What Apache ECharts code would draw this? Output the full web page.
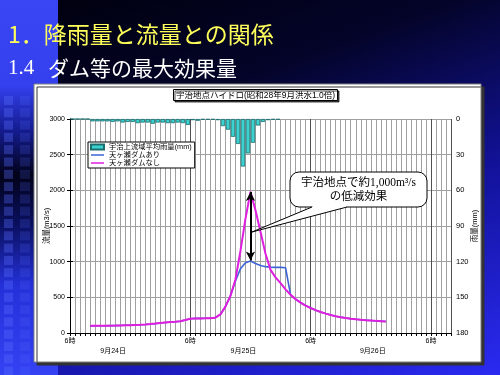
<!DOCTYPE html>
<html><head><meta charset="utf-8">
<script src="https://cdn.jsdelivr.net/npm/echarts@6/dist/echarts.min.js"></script>
<style>
html,body{margin:0;padding:0;}
body{width:500px;height:375px;overflow:hidden;
background:
 linear-gradient(to bottom,#3a46f4 0px,#3440ee 85px,#141c90 130px,#02021a 175px,#0a1060 225px,#2430d8 285px,#3442f4 375px) 0 0/58px 375px no-repeat,
 linear-gradient(160deg,#00000c 0%,#04042a 30%,#12129a 62%,#2a2af2 100%);}
#c{width:500px;height:375px;}
</style></head><body><div id="c"></div><script>
// ---- data ----
const chartTitle = '宇治地点ハイドロ(昭和28年9月洪水1.0倍)';
const seriesNames = ['宇治上流域平均雨量(mm)', '天ヶ瀬ダムあり', '天ヶ瀬ダムなし'];
const hourTickLabel = '6時';            // every 24 h from 9/24 6時
const dateLabels = ['9月24日', '9月25日', '9月26日'];
const datePositions = [8.6, 34.6, 60.4]; // hours after 9/24 6時
const leftTicks = [0, 500, 1000, 1500, 2000, 2500, 3000];
const rightTicks = [0, 30, 60, 90, 120, 150, 180];
// hourly rainfall (mm), one value per hour starting 9/24 6時
const rainfall = [0, 0, 0, 0, 2, 2, 2, 2, 2.5, 2, 3, 2.5, 2.5, 3.5, 3, 3, 4, 3, 3, 3.5, 3.5, 3, 3.5, 5,
  1, 1.5, 0.5, 0.5, 0.5, 1, 6, 9, 15, 21, 40, 29, 20, 5.5, 2.5, 1, 0.5, 0.5];
// discharge (m3/s), hourly, starting at hour 4 (9/24 10時)
const flowStartHour = 4;
const flowNoDam = [100, 100, 101, 102, 103, 104, 106, 108, 110, 113, 116, 120, 125, 132, 140, 147, 153, 158, 165, 182,
  200, 205, 205, 206, 208, 215, 260, 370, 520, 750, 1150, 1600, 1980, 1720, 1420, 1110, 885, 780, 700, 612,
  535, 475, 425, 385, 350, 320, 295, 272, 252, 236, 222, 211, 201, 193, 186, 180, 175, 170, 166, 162];
const flowWithDam = [100, 100, 101, 102, 103, 104, 106, 108, 110, 113, 116, 120, 125, 132, 140, 147, 153, 158, 165, 182,
  200, 205, 205, 206, 208, 215, 260, 370, 520, 730, 900, 985, 1010, 975, 945, 930, 922, 920, 920, 915,
  535, 475, 425, 385, 350, 320, 295, 272, 252, 236, 222, 211, 201, 193, 186, 180, 175, 170, 166, 162];
const peakHour = 36;
const peakNoDam = 1975, peakWithDam = 1015;

const FONT = '"Liberation Sans","Noto Sans CJK JP",sans-serif';
const chart = echarts.init(document.getElementById('c'), null, {renderer: 'canvas'});

const squares = [];
for (let k = 0; k < 23; k++) {
  squares.push({type: 'rect', silent: true, z: -20, shape: {x: 4, y: 96 + k * 12.3, width: 9, height: 9},
    style: {fill: 'rgba(90,110,255,0.35)'}});
  squares.push({type: 'rect', silent: true, z: -20, shape: {x: 20, y: 96 + k * 12.3, width: 10, height: 9},
    style: {fill: 'rgba(90,110,255,0.18)'}});
}
const lineIcon = 'path://M0,0h26v3h-26z';

const option = {
  animation: false,
  backgroundColor: 'transparent',
  title: {
    text: chartTitle, left: 173, top: 89, padding: [2, 3, 1, 3],
    textStyle: {fontSize: 8.5, fontWeight: 'normal', color: '#000', fontFamily: FONT},
    backgroundColor: '#fff', borderColor: '#000', borderWidth: 1,
    shadowColor: 'rgba(0,0,0,0.7)', shadowOffsetX: 1.5, shadowOffsetY: 1.5, shadowBlur: 0
  },
  legend: {
    left: 88, top: 142, orient: 'vertical', backgroundColor: '#fff', borderColor: '#000', borderWidth: 1,
    padding: [1, 3, 1, 2], itemGap: 0, itemWidth: 13, itemHeight: 5, symbolKeepAspect: true,
    textStyle: {fontSize: 7.3, lineHeight: 8, color: '#000', fontFamily: FONT},
    data: [{name: seriesNames[0], icon: 'rect'}, {name: seriesNames[1], icon: lineIcon}, {name: seriesNames[2], icon: lineIcon}]
  },
  grid: {left: 70, right: 49, top: 119, bottom: 42},
  xAxis: [
    {type: 'value', min: 0, max: 76, interval: 1, position: 'bottom',
      axisLine: {lineStyle: {color: '#000', width: 1}},
      axisTick: {length: 3, lineStyle: {color: '#000'}},
      splitLine: {show: true, lineStyle: {color: '#a0a0a0', width: 1}},
      axisLabel: {fontSize: 7, margin: 5, color: '#000', fontFamily: FONT,
        formatter: v => (v % 24 === 0 ? hourTickLabel : '')}},
    {type: 'value', min: 0, max: 76, interval: 24, position: 'bottom',
      axisLine: {show: false}, axisTick: {show: false}, axisLabel: {show: false},
      splitLine: {show: true, lineStyle: {color: '#505050', width: 1}}},
    {type: 'value', min: 0, max: 76, position: 'bottom',
      axisLine: {show: false}, axisTick: {show: false}, splitLine: {show: false},
      axisLabel: {customValues: datePositions, margin: 15, fontSize: 7, color: '#000', fontFamily: FONT,
        formatter: v => {
          let best = 0;
          datePositions.forEach((p, i) => { if (Math.abs(p - v) < Math.abs(datePositions[best] - v)) best = i; });
          return dateLabels[best];
        }}}
  ],
  yAxis: [
    {type: 'value', min: leftTicks[0], max: leftTicks[leftTicks.length - 1], interval: leftTicks[1] - leftTicks[0],
      position: 'left', name: '流量(m3/s)', nameLocation: 'middle', nameGap: 19, nameRotate: 90, nameMoveOverlap: false,
      nameTextStyle: {fontSize: 7.5, color: '#000', fontFamily: FONT},
      axisLine: {show: true, lineStyle: {color: '#000'}},
      axisTick: {show: true, length: 3, lineStyle: {color: '#000'}},
      axisLabel: {fontSize: 7, margin: 5, color: '#000', fontFamily: FONT, formatter: v => String(v)},
      splitLine: {show: true, lineStyle: {color: '#a0a0a0'}}},
    {type: 'value', min: rightTicks[0], max: rightTicks[rightTicks.length - 1], interval: rightTicks[1] - rightTicks[0],
      inverse: true, position: 'right', name: '雨量(mm)', nameLocation: 'middle', nameGap: 20, nameRotate: 90, nameMoveOverlap: false,
      nameTextStyle: {fontSize: 7.5, color: '#000', fontFamily: FONT},
      axisLine: {show: true, lineStyle: {color: '#000'}},
      axisTick: {show: true, length: 3, lineStyle: {color: '#000'}},
      axisLabel: {fontSize: 7.5, margin: 5, color: '#000', fontFamily: FONT, formatter: v => String(v)},
      splitLine: {show: false}}
  ],
  series: [
    {name: seriesNames[0], type: 'bar', xAxisIndex: 0, yAxisIndex: 1, barWidth: 4.4,
      itemStyle: {color: '#3cd2d2', borderColor: '#1b6e6e', borderWidth: 0.8},
      data: rainfall.map((v, i) => [i + 0.5, v])},
    {name: seriesNames[1], type: 'line', xAxisIndex: 0, yAxisIndex: 0, symbol: 'none',
      lineStyle: {color: '#3d64d6', width: 1.6}, itemStyle: {color: '#3d64d6'},
      data: flowWithDam.map((v, i) => [flowStartHour + i, v])},
    {name: seriesNames[2], type: 'line', xAxisIndex: 0, yAxisIndex: 0, symbol: 'none',
      lineStyle: {color: '#e01ee0', width: 2}, itemStyle: {color: '#e01ee0'},
      data: flowNoDam.map((v, i) => [flowStartHour + i, v]),
      markLine: {silent: true, symbol: ['arrow', 'arrow'], symbolSize: [7, 9],
        lineStyle: {color: '#000', width: 2, type: 'solid'}, label: {show: false},
        data: [[{coord: [peakHour, peakNoDam]}, {coord: [peakHour, peakWithDam]}]]}}
  ],
  graphic: [
    ...squares,
    {type: 'rect', silent: true, z: -10, shape: {x: 34, y: 84, width: 447, height: 278},
      style: {fill: '#fff', stroke: '#808080', lineWidth: 1, shadowColor: '#333', shadowOffsetX: 3, shadowOffsetY: 3, shadowBlur: 0}},
    {type: 'text', silent: true, x: 8, y: 34,
      style: {text: '1．降雨量と流量との関係', fill: '#ffff5a', font: '23px "Noto Sans CJK JP"', verticalAlign: 'middle', textVerticalAlign: 'middle'}},
    {type: 'text', silent: true, x: 8, y: 68,
      style: {text: '1.4', fill: '#fff', font: '21px "Liberation Serif"', verticalAlign: 'middle', textVerticalAlign: 'middle'}},
    {type: 'text', silent: true, x: 48, y: 68,
      style: {text: 'ダム等の最大効果量', fill: '#fff', font: '21px "Noto Sans CJK JP"', verticalAlign: 'middle', textVerticalAlign: 'middle'}},
    {type: 'rect', silent: true, z: 50, shape: {x: 290, y: 172, width: 137, height: 35, r: 9},
      style: {fill: '#fff', stroke: '#000', lineWidth: 1}},
    {type: 'polygon', silent: true, z: 51, shape: {points: [[312, 207], [347, 207], [252, 232]]},
      style: {fill: '#fff'}},
    {type: 'rect', silent: true, z: 51, shape: {x: 312.5, y: 205.5, width: 34, height: 2.5},
      style: {fill: '#fff'}},
    {type: 'polyline', silent: true, z: 52, shape: {points: [[312, 207], [252, 232], [347, 207]]},
      style: {stroke: '#000', lineWidth: 1, fill: null}},
    {type: 'text', silent: true, z: 53, x: 358.5, y: 183,
      style: {text: '宇治地点で約1,000m³/s', fill: '#000', font: '11.5px "Liberation Serif","Noto Sans CJK JP"',
        align: 'center', textAlign: 'center', verticalAlign: 'middle', textVerticalAlign: 'middle'}},
    {type: 'text', silent: true, z: 53, x: 358.5, y: 197,
      style: {text: 'の低減効果', fill: '#000', font: '11.5px "Liberation Serif","Noto Sans CJK JP"',
        align: 'center', textAlign: 'center', verticalAlign: 'middle', textVerticalAlign: 'middle'}}
  ]
};
chart.setOption(option);
</script></body></html>
